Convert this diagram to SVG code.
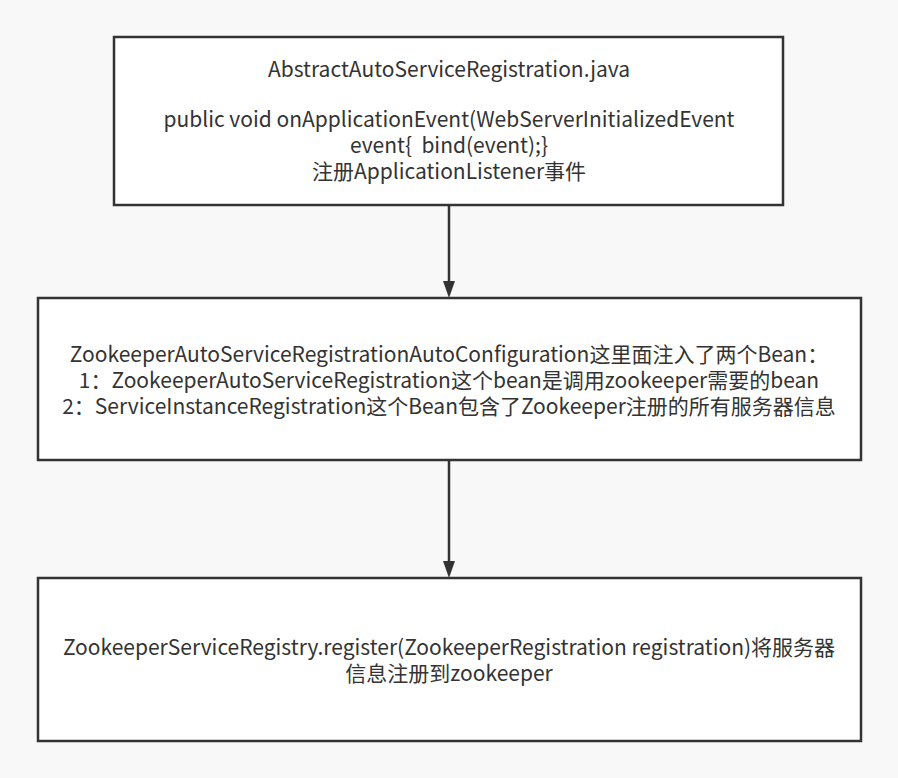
<svg xmlns="http://www.w3.org/2000/svg" width="898" height="778" viewBox="0 0 898 778">
<style>
.box{fill:#ffffff;stroke:#333333;stroke-width:2.5}
.t{font-family:"Noto Sans CJK SC","Noto Sans",sans-serif;font-size:21px;fill:#333333;text-anchor:middle;white-space:pre}
.edge{stroke:#333333;stroke-width:2.5;fill:none}
</style>
<rect x="0" y="0" width="898" height="778" fill="#f8f8f8"/>
<g id="connectors">
<path class="edge" d="M449,206 L449,284"/>
<path d="M443,281 L449,298 L455,281 z" fill="#333333"/>
<path class="edge" d="M449,461 L449,564"/>
<path d="M443,561 L449,578 L455,561 z" fill="#333333"/>
</g>
<g id="node1">
<rect class="box" x="114" y="37" width="669" height="168"/>
<text class="t" x="449" y="77">AbstractAutoServiceRegistration.java</text>
<text class="t" x="449" y="127">public void onApplicationEvent(WebServerInitializedEvent</text>
<text class="t" x="449" y="153" xml:space="preserve">event{  bind(event);}</text>
<text class="t" x="449" y="179">注册ApplicationListener事件</text>
</g>
<g id="node2">
<rect class="box" x="38" y="298" width="823" height="162"/>
<text class="t" x="449" y="362">ZookeeperAutoServiceRegistrationAutoConfiguration这里面注入了两个Bean：</text>
<text class="t" x="449" y="388">1：ZookeeperAutoServiceRegistration这个bean是调用zookeeper需要的bean</text>
<text class="t" x="449" y="414">2：ServiceInstanceRegistration这个Bean包含了Zookeeper注册的所有服务器信息</text>
</g>
<g id="node3">
<rect class="box" x="38" y="578" width="823" height="163"/>
<text class="t" x="449" y="655">ZookeeperServiceRegistry.register(ZookeeperRegistration registration)将服务器</text>
<text class="t" x="449" y="681">信息注册到zookeeper</text>
</g>
</svg>
